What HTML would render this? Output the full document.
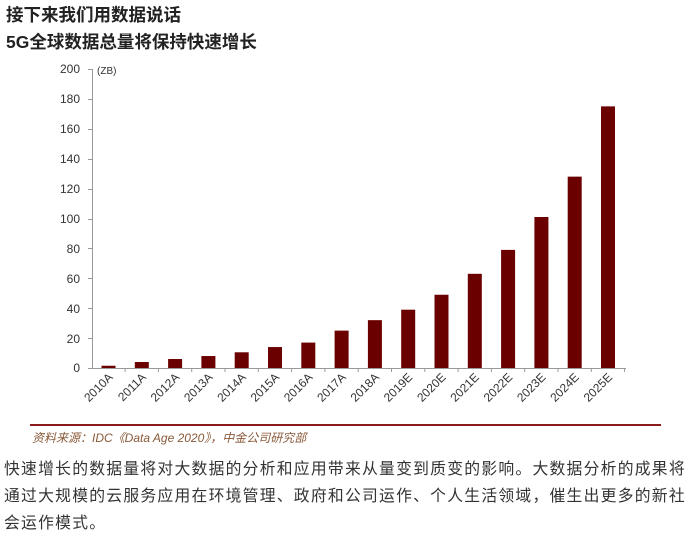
<!DOCTYPE html>
<html><head><meta charset="utf-8"><style>
body{margin:0;width:690px;height:540px;background:#fff;overflow:hidden;font-family:"Liberation Sans","Noto Sans CJK SC",sans-serif;}
.t{position:absolute;left:6px;font-weight:bold;font-size:17.5px;color:#222;}
.p{position:absolute;left:4px;font-size:15.8px;letter-spacing:1.25px;color:#333;line-height:27px;white-space:nowrap;}
</style></head><body>
<div class="t" style="top:2px">接下来我们用数据说话</div>
<div class="t" style="top:29px">5G全球数据总量将保持快速增长</div>
<svg style="position:absolute;left:0;top:0" width="690" height="540">
<g font-family="Liberation Sans, sans-serif" font-size="12" fill="#333" text-anchor="end">
<text x="80" y="73">200</text><text x="80" y="103">180</text><text x="80" y="133">160</text><text x="80" y="163">140</text><text x="80" y="193">120</text><text x="80" y="223">100</text><text x="80" y="253">80</text><text x="80" y="283">60</text><text x="80" y="313">40</text><text x="80" y="343">20</text><text x="80" y="372">0</text>
</g>
<text x="97" y="74" font-size="10" fill="#333" font-family="Liberation Sans, sans-serif">(ZB)</text>
<g stroke="#999" stroke-width="1">
<line x1="92.5" y1="69" x2="92.5" y2="368"/>
<line x1="92" y1="368.5" x2="626" y2="368.5"/>
<path d="M88 69.5h4M88 99.5h4M88 129.5h4M88 159.5h4M88 189.5h4M88 219.5h4M88 248.5h4M88 278.5h4M88 308.5h4M88 338.5h4M88 368.5h4"/>
</g>
<g fill="#6a0000" id="bars"></g>
<g id="lbl" font-family="Liberation Sans, sans-serif" font-size="12" fill="#333" text-anchor="end"></g>
<line x1="30" y1="425" x2="661" y2="425" stroke="#8b1a1a" stroke-width="2"/>
<text x="32" y="442" font-size="12" font-style="italic" fill="#8a5a3a" font-family="Liberation Sans, Noto Sans CJK SC, sans-serif">资料来源：IDC《Data Age 2020》，中金公司研究部</text>
</svg>
<div class="p" style="top:456px">快速增长的数据量将对大数据的分析和应用带来从量变到质变的影响。大数据分析的成果将<br>通过大规模的云服务应用在环境管理、政府和公司运作、个人生活领域，催生出更多的新社<br>会运作模式。</div>
<script>
var v=[1.5,4,6,8,10.5,14,17,25,32,39,49,63,79,101,128,175];
var n=["2010A","2011A","2012A","2013A","2014A","2015A","2016A","2017A","2018A","2019E","2020E","2021E","2022E","2023E","2024E","2025E"];
var b="",l="",tk="";
for(var i=0;i<16;i++){var c=108.5+i*33.3,h=v[i]*1.495;
b+='<rect x="'+(c-7)+'" y="'+(368-h)+'" width="14" height="'+h+'"/>';
l+='<text transform="translate('+(c+5)+',378) rotate(-45)">'+n[i]+'</text>';
tk+='<line x1="'+(c+16.6)+'" y1="368" x2="'+(c+16.6)+'" y2="372" stroke="#999"/>';}
document.getElementById("bars").innerHTML=b+tk;
document.getElementById("lbl").innerHTML=l;
</script>
</body></html>
